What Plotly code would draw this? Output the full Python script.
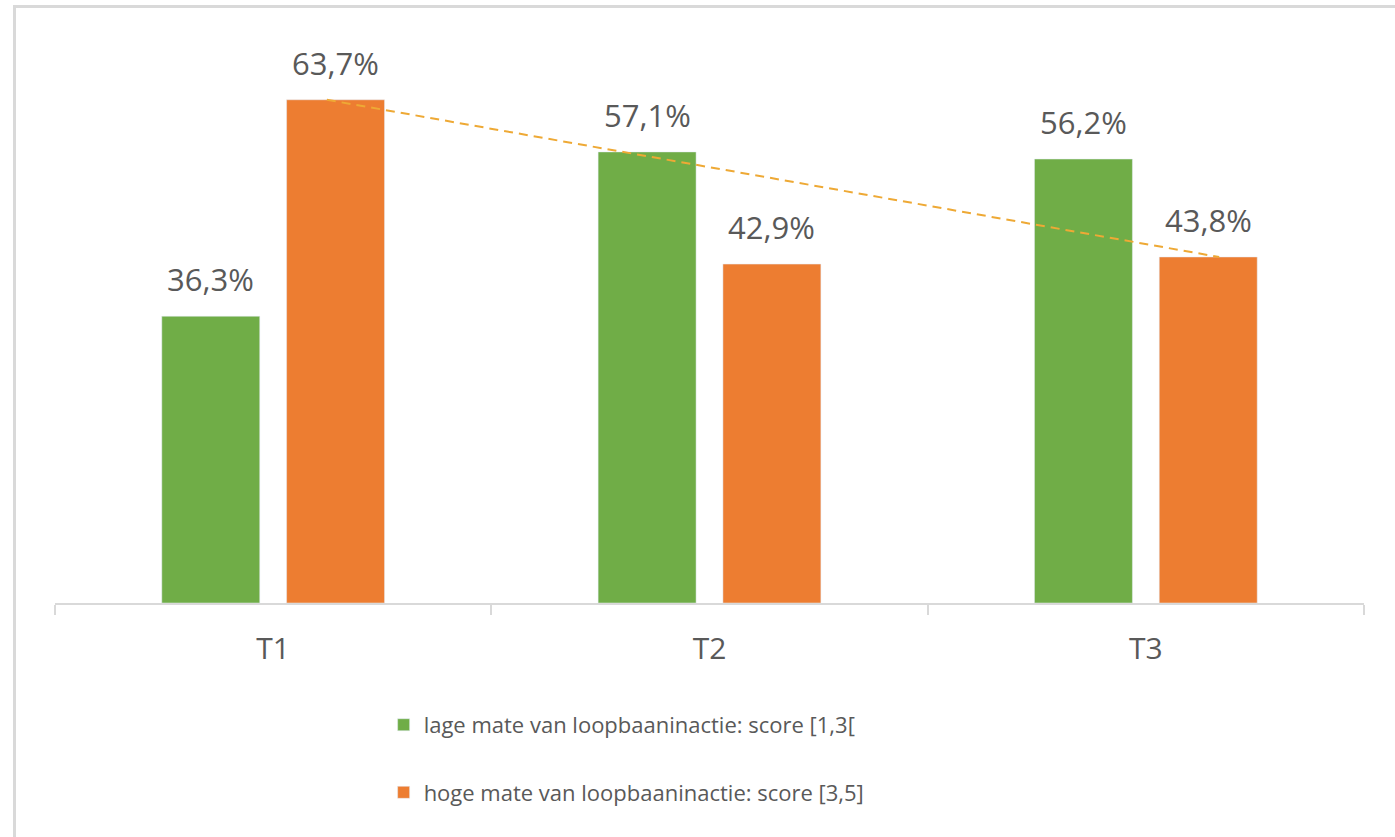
import plotly.graph_objects as go

# Data
categories = ["T1", "T2", "T3"]
lage = [36.3, 57.1, 56.2]
hoge = [63.7, 42.9, 43.8]
series_names = [
    "lage mate van loopbaaninactie: score [1,3[",
    "hoge mate van loopbaaninactie: score [3,5]",
]

GREEN = "#70AD47"
ORANGE = "#ED7D31"
TEXT = "#595959"
AXIS = "#D9D9D9"
FONT = "Open Sans, Lato, Roboto, sans-serif"

BARGAP = 0.428
BARGROUPGAP = 0.215
# centre offset of each bar inside its category (two bars per group)
OFFSET = (1 - BARGAP) / 4

x_idx = list(range(len(categories)))

fig = go.Figure()
fig.add_trace(go.Bar(x=x_idx, y=lage, name=series_names[0], marker_color=GREEN,
                     legendgroup="a", hoverinfo="skip"))
fig.add_trace(go.Bar(x=x_idx, y=hoge, name=series_names[1], marker_color=ORANGE,
                     legendgroup="b", hoverinfo="skip"))

# dashed connector between the first and last orange bar tops
fig.add_trace(go.Scatter(
    x=[x_idx[0] + OFFSET - 0.02, x_idx[-1] + OFFSET + 0.025],
    y=[hoge[0], hoge[-1]],
    mode="lines",
    line=dict(color="#EEA935", width=2, dash="9px,6px"),
    showlegend=False, hoverinfo="skip",
))

def fmt(v):
    return f"{v:.1f}".replace(".", ",") + "%"

annotations = []
for i, v in zip(x_idx, lage):
    annotations.append(dict(x=i - OFFSET, y=v, text=fmt(v), showarrow=False,
                            yanchor="bottom", yshift=14,
                            font=dict(family=FONT, size=31, color=TEXT)))
for i, v in zip(x_idx, hoge):
    annotations.append(dict(x=i + OFFSET, y=v, text=fmt(v), showarrow=False,
                            yanchor="bottom", yshift=14,
                            font=dict(family=FONT, size=31, color=TEXT)))

L, R, T, B = 55, 31, 50, 234
W, H = 1395, 837
pw = W - L - R
ph = H - T - B

def px_x(px):
    return (px - L) / pw

def px_y(py):
    return (H - B - py) / ph

# light grey frame along the left and top edge
shapes = [dict(
    type="path", xref="paper", yref="paper",
    path=f"M {px_x(14.5)},{px_y(H)} L {px_x(14.5)},{px_y(6.5)} L {px_x(W)},{px_y(6.5)}",
    line=dict(color=AXIS, width=3),
)]

fig.update_layout(
    width=W, height=H,
    margin=dict(l=L, r=R, t=T, b=B, autoexpand=False),
    paper_bgcolor="white", plot_bgcolor="white",
    barmode="group", bargap=BARGAP, bargroupgap=BARGROUPGAP,
    annotations=annotations,
    shapes=shapes,
    font=dict(family=FONT, color=TEXT),
    legend=dict(
        xref="container", yref="container",
        x=0.275, y=0.159, xanchor="left", yanchor="top",
        font=dict(family=FONT, size=22, color=TEXT),
        tracegroupgap=36, bgcolor="rgba(0,0,0,0)",
    ),
    xaxis=dict(
        range=[-0.5, 2.5], showgrid=False, zeroline=False,
        showline=True, linecolor=AXIS, linewidth=2,
        tickmode="array", tickvals=x_idx, ticktext=categories,
        ticks="outside", ticklen=18, tickcolor="rgba(0,0,0,0)",
        tickfont=dict(family=FONT, size=30, color=TEXT),
        minor=dict(tickmode="array", tickvals=[-0.5, 0.5, 1.5, 2.5],
                   ticks="outside", ticklen=10, tickcolor=AXIS, tickwidth=2,
                   showgrid=False),
        fixedrange=True,
    ),
    yaxis=dict(range=[0, 70], visible=False, fixedrange=True),
)

fig.write_html("out.html", config={"displayModeBar": False})
